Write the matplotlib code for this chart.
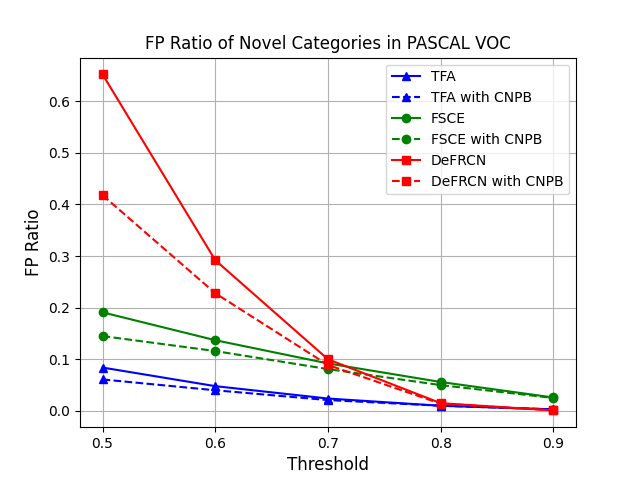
import matplotlib
matplotlib.use("Agg")
import matplotlib.pyplot as plt

thresholds = [0.5, 0.6, 0.7, 0.8, 0.9]
tfa = [0.084, 0.048, 0.024, 0.010, 0.003]
tfa_cnpb = [0.061, 0.040, 0.021, 0.010, 0.003]
fsce = [0.191, 0.137, 0.092, 0.056, 0.026]
fsce_cnpb = [0.145, 0.116, 0.081, 0.050, 0.025]
defrcn = [0.652, 0.292, 0.100, 0.015, 0.001]
defrcn_cnpb = [0.418, 0.228, 0.089, 0.014, 0.001]

fig, ax = plt.subplots(figsize=(6.4, 4.8), dpi=100)
ax.plot(thresholds, tfa, 'b-^', label='TFA')
ax.plot(thresholds, tfa_cnpb, 'b--^', label='TFA with CNPB')
ax.plot(thresholds, fsce, 'g-o', label='FSCE')
ax.plot(thresholds, fsce_cnpb, 'g--o', label='FSCE with CNPB')
ax.plot(thresholds, defrcn, 'r-s', label='DeFRCN')
ax.plot(thresholds, defrcn_cnpb, 'r--s', label='DeFRCN with CNPB')
ax.set_xticks(thresholds)
ax.set_xlabel('Threshold', fontsize=12)
ax.set_ylabel('FP Ratio', fontsize=12)
ax.set_title('FP Ratio of Novel Categories in PASCAL VOC')
ax.grid(True)
ax.legend()
fig.savefig('out.png')
